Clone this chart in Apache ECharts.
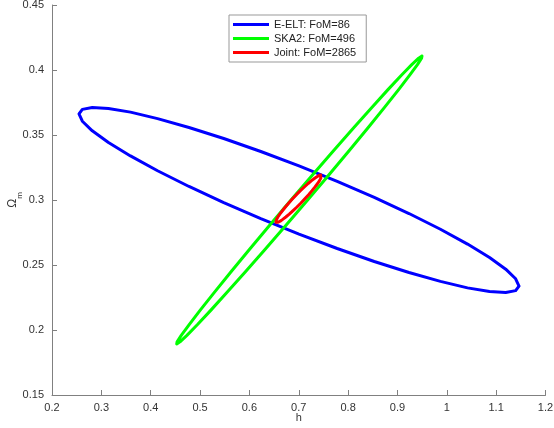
<!DOCTYPE html>
<html>
<head>
<meta charset="utf-8">
<script src="https://cdn.jsdelivr.net/npm/echarts@6/dist/echarts.min.js"></script>
<style>
html,body{margin:0;padding:0;background:#fff;}
#c{width:554px;height:428px;}
</style>
</head>
<body>
<div id="c"></div>
<script>
// Contour points (h, Omega_m)
const eeltH  = [1.1463,1.1395,1.1194,1.0866,1.0420,0.9871,0.9234,0.8530,0.7779,0.7005,0.6231,0.5480,0.4776,0.4139,0.3590,0.3144,0.2816,0.2615,0.2547,0.2615,0.2816,0.3144,0.3590,0.4139,0.4776,0.5480,0.6231,0.7005,0.7779,0.8530,0.9234,0.9871,1.0420,1.0866,1.1194,1.1395,1.1463];
const eeltOm = [0.2338,0.2394,0.2468,0.2558,0.2661,0.2775,0.2896,0.3020,0.3143,0.3262,0.3373,0.3473,0.3558,0.3626,0.3676,0.3704,0.3712,0.3697,0.3662,0.3606,0.3532,0.3442,0.3339,0.3225,0.3104,0.2980,0.2857,0.2738,0.2627,0.2527,0.2442,0.2374,0.2324,0.2296,0.2288,0.2303,0.2338];

const ska2H  = [0.9497,0.9489,0.9405,0.9248,0.9024,0.8738,0.8400,0.8020,0.7609,0.7180,0.6746,0.6320,0.5915,0.5543,0.5216,0.4944,0.4734,0.4594,0.4527,0.4535,0.4619,0.4776,0.5000,0.5286,0.5624,0.6004,0.6415,0.6844,0.7278,0.7704,0.8109,0.8481,0.8808,0.9080,0.9290,0.9430,0.9497];
const ska2Om = [0.4108,0.4091,0.4041,0.3960,0.3849,0.3712,0.3554,0.3379,0.3192,0.3000,0.2808,0.2621,0.2446,0.2288,0.2151,0.2040,0.1959,0.1909,0.1892,0.1909,0.1959,0.2040,0.2151,0.2288,0.2446,0.2621,0.2808,0.3000,0.3192,0.3379,0.3554,0.3712,0.3849,0.3960,0.4041,0.4091,0.4108];

const jointH  = [0.7445,0.7460,0.7461,0.7448,0.7421,0.7382,0.7330,0.7269,0.7200,0.7124,0.7045,0.6964,0.6885,0.6808,0.6738,0.6675,0.6623,0.6582,0.6553,0.6538,0.6537,0.6550,0.6577,0.6616,0.6668,0.6729,0.6798,0.6874,0.6953,0.7034,0.7113,0.7190,0.7260,0.7323,0.7375,0.7416,0.7445];
const jointOm = [0.3192,0.3189,0.3181,0.3168,0.3149,0.3127,0.3101,0.3072,0.3041,0.3009,0.2977,0.2946,0.2918,0.2891,0.2869,0.2851,0.2837,0.2829,0.2826,0.2829,0.2837,0.2850,0.2869,0.2891,0.2917,0.2946,0.2977,0.3009,0.3041,0.3072,0.3100,0.3127,0.3149,0.3167,0.3181,0.3189,0.3192];

const seriesNames = ['E-ELT: FoM=86','SKA2: FoM=496','Joint: FoM=2865'];
const seriesColors = ['#0000ff','#00ff00','#ff0000'];
const xTicks = [0.2,0.3,0.4,0.5,0.6,0.7,0.8,0.9,1,1.1,1.2];
const yTicks = [0.15,0.2,0.25,0.3,0.35,0.4,0.45];

function zip(a,b){return a.map((v,i)=>[v,b[i]]);}
const datasets = [zip(eeltH,eeltOm), zip(ska2H,ska2Om), zip(jointH,jointOm)];

const FONT = 'Liberation Sans, Arial, sans-serif';
const chart = echarts.init(document.getElementById('c'));
const axisCommon = {
  axisLine:{show:true,lineStyle:{color:'#808080',width:1}},
  axisTick:{show:true,inside:true,length:5,lineStyle:{color:'#808080'}},
  splitLine:{show:false},
  axisLabel:{color:'#333',fontSize:11,fontFamily:FONT}
};
chart.setOption({
  backgroundColor:'#fff',
  animation:false,
  grid:{left:52,right:8.5,top:5,bottom:33,containLabel:false,outerBoundsMode:'none'},
  legend:{
    data:seriesNames.map((n,i)=>({name:n,icon:'rect',itemStyle:{color:seriesColors[i]}})),
    orient:'vertical', left:229, top:15,
    itemWidth:36, itemHeight:3, itemGap:1,
    padding:[3,10,3,4],
    borderColor:'#999', borderWidth:1, backgroundColor:'#fff',
    textStyle:{color:'#222',fontSize:11,lineHeight:13,fontFamily:FONT}
  },
  xAxis:Object.assign({}, axisCommon, {
    type:'value', min:xTicks[0], max:xTicks[xTicks.length-1], interval:0.1,
    name:'h', nameLocation:'middle', nameGap:17, nameMoveOverlap:false,
    nameTextStyle:{color:'#333',fontSize:11,fontFamily:FONT},
    axisLabel:Object.assign({}, axisCommon.axisLabel, {margin:7, formatter:v=>String(+v.toFixed(2))})
  }),
  yAxis:Object.assign({}, axisCommon, {
    type:'value', min:yTicks[0], max:yTicks[yTicks.length-1], interval:0.05,
    name:'{o|Ω}{s|m}', nameLocation:'middle', nameGap:28, nameRotate:90, nameMoveOverlap:false,
    nameTextStyle:{color:'#333',fontFamily:FONT,
      rich:{o:{fontSize:12,lineHeight:22,verticalAlign:'middle',color:'#333',fontFamily:FONT},
            s:{fontSize:8,lineHeight:8,verticalAlign:'bottom',color:'#333',fontFamily:FONT}}},
    axisLabel:Object.assign({}, axisCommon.axisLabel, {margin:8, formatter:v=>String(+v.toFixed(2))})
  }),
  series:datasets.map((d,i)=>({
    name:seriesNames[i], type:'line', data:d, smooth:false, showSymbol:false, symbol:'none',
    lineStyle:{color:seriesColors[i],width:3,join:'round',cap:'round'}, itemStyle:{color:seriesColors[i]}, z:2+i
  }))
});
</script>
</body>
</html>
